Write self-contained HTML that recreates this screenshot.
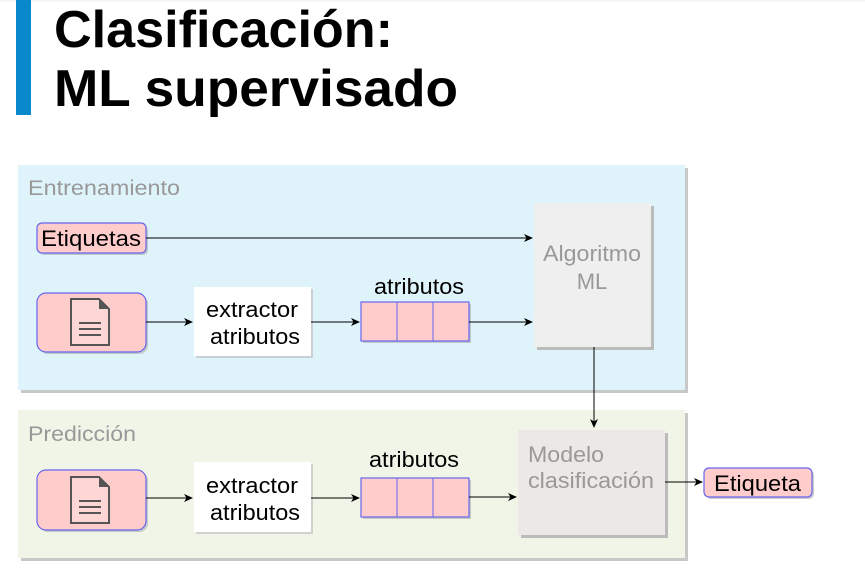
<!DOCTYPE html>
<html><head><meta charset="utf-8"><style>
html,body{margin:0;padding:0;background:#fff;}
svg{display:block;font-family:"Liberation Sans",Arial,sans-serif;}
</style></head><body>
<svg width="865" height="584" viewBox="0 0 865 584" xmlns="http://www.w3.org/2000/svg">
<defs>
<marker id="a" markerWidth="10" markerHeight="10" refX="8" refY="4" orient="auto" markerUnits="userSpaceOnUse">
<path d="M0,0 L9,4 L0,8 L2.5,4 Z" fill="#000"/></marker>
<g id="doc">
<path d="M0,0 h28 l10,10 v36 h-38 Z" fill="#ffd6d6" stroke="#555" stroke-width="2"/>
<path d="M28,0 l10,10 h-10 Z" fill="#555"/>
<path d="M8,24 h22 M8,30 h22 M8,36 h22" stroke="#555" stroke-width="2"/>
</g>
</defs>
<rect x="0" y="0" width="865" height="2" fill="#f6f6f6"/>
<rect x="16" y="0" width="15" height="115" fill="#0a88cc"/>
<text x="54" y="47" font-size="52" font-weight="bold" textLength="339" lengthAdjust="spacingAndGlyphs">Clasificación:</text>
<text x="54" y="106" font-size="52" font-weight="bold" textLength="404" lengthAdjust="spacingAndGlyphs">ML supervisado</text>

<rect x="21" y="168" width="667" height="225" fill="#c8c8c8"/>
<rect x="18" y="165" width="667" height="225" fill="#dff3fb"/>
<rect x="21" y="413" width="667" height="148" fill="#c8c8c8"/>
<rect x="18" y="410" width="667" height="148" fill="#f0f5e8"/>
<text x="28" y="195" font-size="21" fill="#999" textLength="152" lengthAdjust="spacingAndGlyphs">Entrenamiento</text>
<text x="28" y="441" font-size="21" fill="#999" textLength="108" lengthAdjust="spacingAndGlyphs">Predicción</text>

<rect x="39" y="225" width="109" height="30" rx="5" fill="#aaa" opacity="0.6"/>
<rect x="37" y="223" width="109" height="30" rx="5" fill="#ffcccc" stroke="#6666ee" stroke-width="1.2"/>
<text x="41" y="246" font-size="22" textLength="100" lengthAdjust="spacingAndGlyphs">Etiquetas</text>
<line x1="146" y1="238" x2="532" y2="238" stroke="#000" marker-end="url(#a)"/>

<rect x="39" y="295" width="109" height="59" rx="9" fill="#aaa" opacity="0.6"/>
<rect x="37" y="293" width="109" height="59" rx="9" fill="#ffcccc" stroke="#6666ee" stroke-width="1.2"/>
<use href="#doc" x="71" y="299"/>
<line x1="146" y1="322" x2="192" y2="322" stroke="#000" marker-end="url(#a)"/>
<rect x="196" y="289" width="117" height="69" fill="#bbb" opacity="0.6"/>
<rect x="194" y="287" width="117" height="69" fill="#fff"/>
<text x="206" y="317" font-size="22" textLength="92" lengthAdjust="spacingAndGlyphs">extractor</text>
<text x="210" y="344" font-size="22" textLength="90" lengthAdjust="spacingAndGlyphs">atributos</text>
<line x1="311" y1="322" x2="359" y2="322" stroke="#000" marker-end="url(#a)"/>
<text x="374" y="294" font-size="22" textLength="90" lengthAdjust="spacingAndGlyphs">atributos</text>
<rect x="363" y="304" width="108" height="39" fill="#aaa" opacity="0.6"/>
<rect x="361" y="302" width="108" height="39" fill="#ffcccc" stroke="#6666ee" stroke-width="1.2"/>
<line x1="397" y1="302" x2="397" y2="341" stroke="#6666ee"/>
<line x1="433" y1="302" x2="433" y2="341" stroke="#6666ee"/>
<line x1="469" y1="322" x2="532" y2="322" stroke="#000" marker-end="url(#a)"/>
<rect x="537" y="206" width="117" height="144" fill="#bbb"/>
<rect x="534" y="203" width="117" height="144" fill="#efefef"/>
<text x="543" y="261" font-size="22" fill="#999" textLength="98" lengthAdjust="spacingAndGlyphs">Algoritmo</text>
<text x="592" y="289" font-size="22" fill="#999" text-anchor="middle">ML</text>
<line x1="594" y1="347" x2="594" y2="427" stroke="#000" marker-end="url(#a)"/>

<rect x="39" y="472" width="109" height="60" rx="9" fill="#aaa" opacity="0.6"/>
<rect x="37" y="470" width="109" height="60" rx="9" fill="#ffcccc" stroke="#6666ee" stroke-width="1.2"/>
<use href="#doc" x="71" y="477"/>
<line x1="146" y1="498" x2="192" y2="498" stroke="#000" marker-end="url(#a)"/>
<rect x="196" y="464" width="117" height="70" fill="#bbb" opacity="0.6"/>
<rect x="194" y="462" width="117" height="70" fill="#fff"/>
<text x="206" y="493" font-size="22" textLength="92" lengthAdjust="spacingAndGlyphs">extractor</text>
<text x="210" y="520" font-size="22" textLength="90" lengthAdjust="spacingAndGlyphs">atributos</text>
<line x1="311" y1="498" x2="359" y2="498" stroke="#000" marker-end="url(#a)"/>
<text x="369" y="467" font-size="22" textLength="90" lengthAdjust="spacingAndGlyphs">atributos</text>
<rect x="363" y="480" width="108" height="39" fill="#aaa" opacity="0.6"/>
<rect x="361" y="478" width="108" height="39" fill="#ffcccc" stroke="#6666ee" stroke-width="1.2"/>
<line x1="397" y1="478" x2="397" y2="517" stroke="#6666ee"/>
<line x1="433" y1="478" x2="433" y2="517" stroke="#6666ee"/>
<line x1="469" y1="497" x2="516" y2="497" stroke="#000" marker-end="url(#a)"/>
<rect x="521" y="433" width="147" height="105" fill="#bbb"/>
<rect x="518" y="430" width="147" height="105" fill="#ebe8e5"/>
<text x="528" y="462" font-size="22" fill="#999" textLength="76" lengthAdjust="spacingAndGlyphs">Modelo</text>
<text x="528" y="488" font-size="22" fill="#999" textLength="126" lengthAdjust="spacingAndGlyphs">clasificación</text>
<line x1="665" y1="482" x2="702" y2="482" stroke="#000" marker-end="url(#a)"/>
<rect x="706" y="470" width="108" height="29" rx="5" fill="#aaa" opacity="0.6"/>
<rect x="704" y="468" width="108" height="29" rx="5" fill="#ffcccc" stroke="#6666ee" stroke-width="1.2"/>
<text x="714" y="491" font-size="22" textLength="87" lengthAdjust="spacingAndGlyphs">Etiqueta</text>
</svg>
</body></html>
